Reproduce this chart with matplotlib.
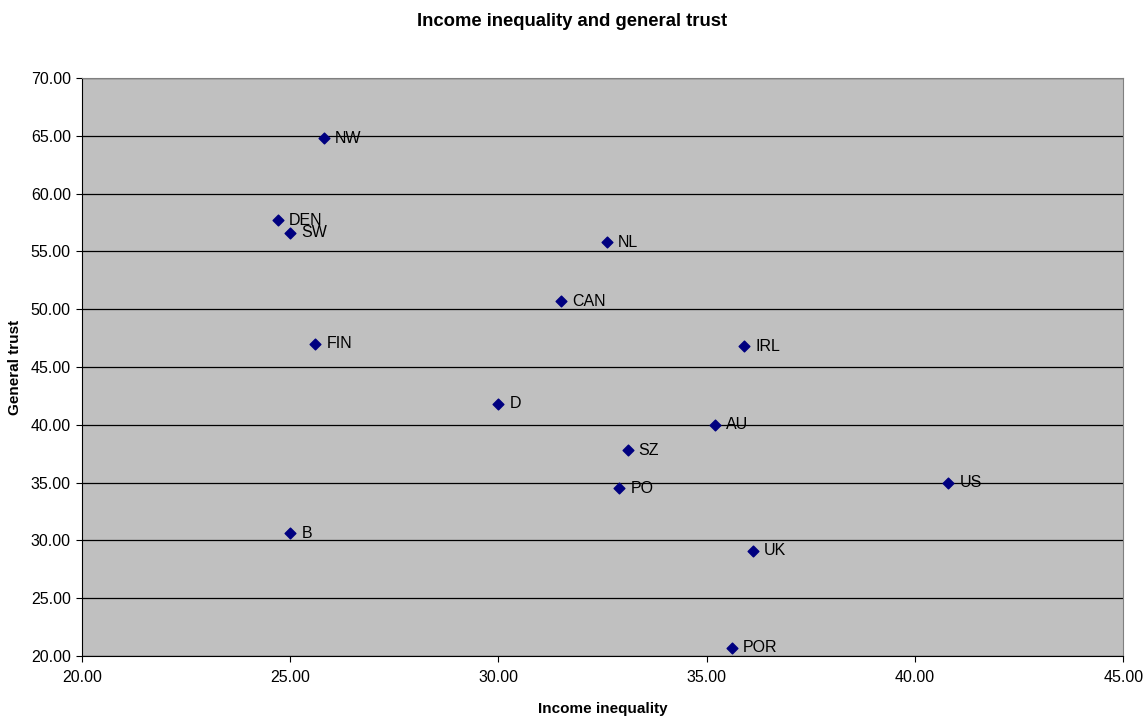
import matplotlib.pyplot as plt
from matplotlib.ticker import FormatStrFormatter

plt.rcParams['font.family'] = ['Liberation Sans', 'DejaVu Sans']

# Country codes with income inequality (x) and general trust (y)
countries = ['NW', 'DEN', 'SW', 'NL', 'CAN', 'FIN', 'IRL', 'D', 'AU',
             'SZ', 'PO', 'US', 'B', 'UK', 'POR']
inequality = [25.8, 24.7, 25.0, 32.6, 31.5, 25.6, 35.9, 30.0, 35.2,
              33.1, 32.9, 40.8, 25.0, 36.1, 35.6]
trust = [64.8, 57.7, 56.6, 55.8, 50.7, 47.0, 46.8, 41.8, 40.0,
         37.8, 34.5, 35.0, 30.6, 29.1, 20.7]

fig = plt.figure(figsize=(11.45, 7.2), dpi=100)
ax = fig.add_axes([0.0716, 0.0889, 0.9094, 0.8028])
ax.set_facecolor('#c0c0c0')

ax.scatter(inequality, trust, marker='D', s=30, color='#000080', zorder=3)
for name, x, y in zip(countries, inequality, trust):
    ax.annotate(name, (x, y), xytext=(8, 0), textcoords='offset points',
                va='center', ha='left', fontsize=11.5, zorder=4)

ax.set_xlim(20, 45)
ax.set_ylim(20, 70)
ax.set_xticks(range(20, 46, 5))
ax.set_yticks(range(20, 71, 5))
ax.xaxis.set_major_formatter(FormatStrFormatter('%.2f'))
ax.yaxis.set_major_formatter(FormatStrFormatter('%.2f'))
ax.tick_params(direction='out', length=4, labelsize=11.5)
ax.tick_params(axis='y', pad=4)
ax.tick_params(axis='x', pad=6)
ax.yaxis.grid(True, color='black', linewidth=0.9)
ax.set_axisbelow(True)

for side in ['top', 'right']:
    ax.spines[side].set_color('#808080')
for side in ['left', 'bottom']:
    ax.spines[side].set_color('black')

ax.set_xlabel('Income inequality', fontsize=11, fontweight='bold', labelpad=12)
ax.set_ylabel('General trust', fontsize=11, fontweight='bold', labelpad=6)
fig.suptitle('Income inequality and general trust', fontsize=13.3,
             fontweight='bold', y=0.982)

fig.savefig('out.png', dpi=100)
